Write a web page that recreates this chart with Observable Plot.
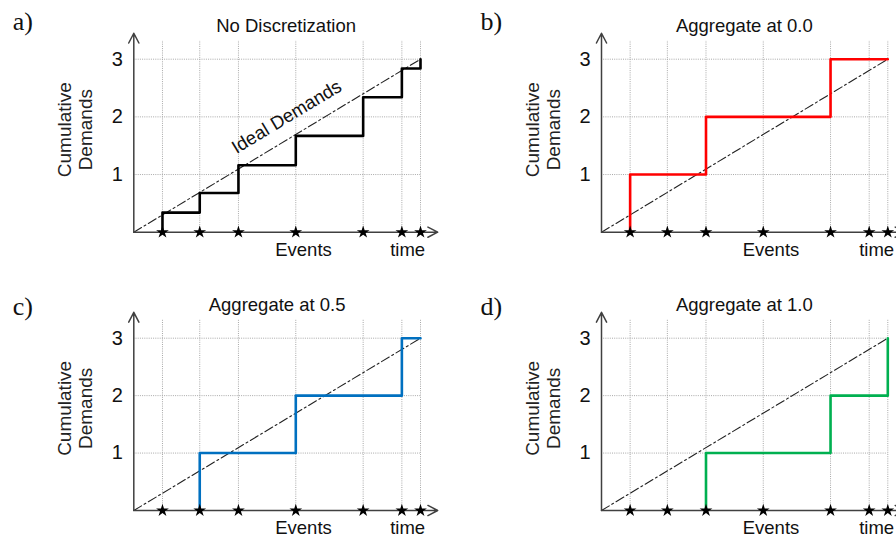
<!DOCTYPE html>
<html>
<head>
<meta charset="utf-8">
<script src="https://cdn.jsdelivr.net/npm/d3@7"></script>
<script src="https://cdn.jsdelivr.net/npm/@observablehq/plot@0.6"></script>
<style>
  html, body { margin: 0; padding: 0; background: #fff; }
  #wrap { position: relative; width: 896px; height: 540px; overflow: hidden; }
  .panel { position: absolute; }
</style>
</head>
<body>
<div id="wrap"></div>
<script>
// ---- data ----
const events = [1.0, 2.3, 3.65, 5.65, 8.0, 9.35, 10.0];          // event times
const noDiscretization = [0.34, 0.68, 1.16, 1.67, 2.34, 2.84, 3.0];
const aggregate00 = [1, 1, 2, 2, 3, 3, 3];
const aggregate05 = [0, 1, 1, 2, 2, 3, 3];
const aggregate10 = [0, 0, 1, 1, 2, 2, 3];
const idealTimes = [0, 10];
const idealValues = [0, 3];
const yTicks = [1, 2, 3];
const panelLabels = ["a)", "b)", "c)", "d)"];
const panelTitles = ["No Discretization", "Aggregate at 0.0", "Aggregate at 0.5", "Aggregate at 1.0"];
const seriesColors = ["#000000", "#ff0000", "#0070c0", "#00b050"];
const seriesValues = [noDiscretization, aggregate00, aggregate05, aggregate10];

const SANS = "'Liberation Sans', Arial, sans-serif";
const SERIF = "'Liberation Serif', 'Times New Roman', serif";

function stepPoints(vals) {
  const k = vals.findIndex(v => v > 0);
  const pts = [{t: events[k], v: 0}];
  for (let i = k; i < events.length; i++) pts.push({t: events[i], v: vals[i]});
  return pts;
}

const layouts = [
  {left: 0,   top: 0,   height: 270, ml: 133.3, mr: 28,  mt: 58.7, mb: 38.3, titleT: 5.31, timeT: 9.55, labelDy: -48},
  {left: 448, top: 0,   height: 270, ml: 153,   mr: 8.7, mt: 58.7, mb: 38.3, titleT: 4.99, timeT: 9.61, labelDy: -48},
  {left: 0,   top: 278, height: 262, ml: 133.3, mr: 28,  mt: 59.7, mb: 30,   titleT: 5.0,  timeT: 9.55, labelDy: -42},
  {left: 448, top: 278, height: 262, ml: 153,   mr: 8.7, mt: 59.7, mb: 30,   titleT: 4.99, timeT: 9.61, labelDy: -42}
];

const wrap = document.getElementById("wrap");
const ideal = idealTimes.map((t, i) => ({t, v: idealValues[i]}));
const xEnd = idealTimes[1];
const yEnd = idealValues[1];

layouts.forEach((L, p) => {
  const marks = [
    // dotted grid
    Plot.ruleX(events, {x: d => d, y1: 0, y2: yEnd * 1.107, stroke: "#a8a8a8", strokeWidth: 1, strokeDasharray: "1,1.2"}),
    Plot.ruleY(yTicks, {y: d => d, x1: 0, x2: xEnd, stroke: "#a8a8a8", strokeWidth: 1, strokeDasharray: "1,1.2"}),
    // ideal demand line
    Plot.line(ideal, {x: "t", y: "v", stroke: "#222", strokeWidth: 1.1, strokeDasharray: "9,3,2,3"}),
    // axes with arrows
    Plot.arrow([{x1: 0, y1: 0, x2: xEnd * 1.06, y2: 0}, {x1: 0, y1: 0, x2: 0, y2: yEnd * 1.15}],
      {x1: "x1", y1: "y1", x2: "x2", y2: "y2", stroke: "#404040", strokeWidth: 1.5, headLength: 11, headAngle: 55}),
    // step series
    Plot.line(stepPoints(seriesValues[p]), {x: "t", y: "v", curve: "step-after", stroke: seriesColors[p], strokeWidth: 2.6}),
    // event stars
    Plot.dot(events, {x: d => d, y: 0, symbol: "star", fill: "#000", stroke: "none", r: 4}),
    // y tick labels
    Plot.text(yTicks, {x: 0, y: d => d, text: d => String(d), dx: -11, textAnchor: "end", fontSize: 20, fill: "#111"}),
    // y axis label
    Plot.text(["Cumulative\nDemands"], {frameAnchor: "left", textAnchor: "middle", rotate: -90, dx: -59, dy: -16, fontSize: 19, lineHeight: 1.1, fill: "#222"}),
    // title
    Plot.text([panelTitles[p]], {x: L.titleT, frameAnchor: "top", dy: -40, fontSize: 18.5, fill: "#111"}),
    // x labels
    Plot.text(["Events"], {x: 5.92, y: 0, dy: 18, fontSize: 18.5, fill: "#111"}),
    Plot.text(["time"], {x: L.timeT, y: 0, dy: 18, fontSize: 18.5, fill: "#111"}),
    // panel label
    Plot.text([panelLabels[p]], {frameAnchor: "top-left", dx: -121, dy: L.labelDy, textAnchor: "start", lineAnchor: "top", fontSize: 26, fontFamily: SERIF, fill: "#111"})
  ];
  if (p === 0) {
    marks.push(Plot.text(["Ideal Demands"], {x: 5.33, y: 1.6, rotate: -31.1, dy: -23, fontSize: 18.5, fill: "#111"}));
  }
  const chart = Plot.plot({
    width: 448,
    height: L.height,
    marginLeft: L.ml, marginRight: L.mr, marginTop: L.mt, marginBottom: L.mb,
    x: {domain: [0, xEnd], axis: null},
    y: {domain: [0, yEnd], axis: null},
    style: {fontFamily: SANS, background: "transparent", overflow: "visible"},
    marks
  });
  chart.classList.add("panel");
  chart.style.left = L.left + "px";
  chart.style.top = L.top + "px";
  wrap.appendChild(chart);
});
</script>
</body>
</html>
